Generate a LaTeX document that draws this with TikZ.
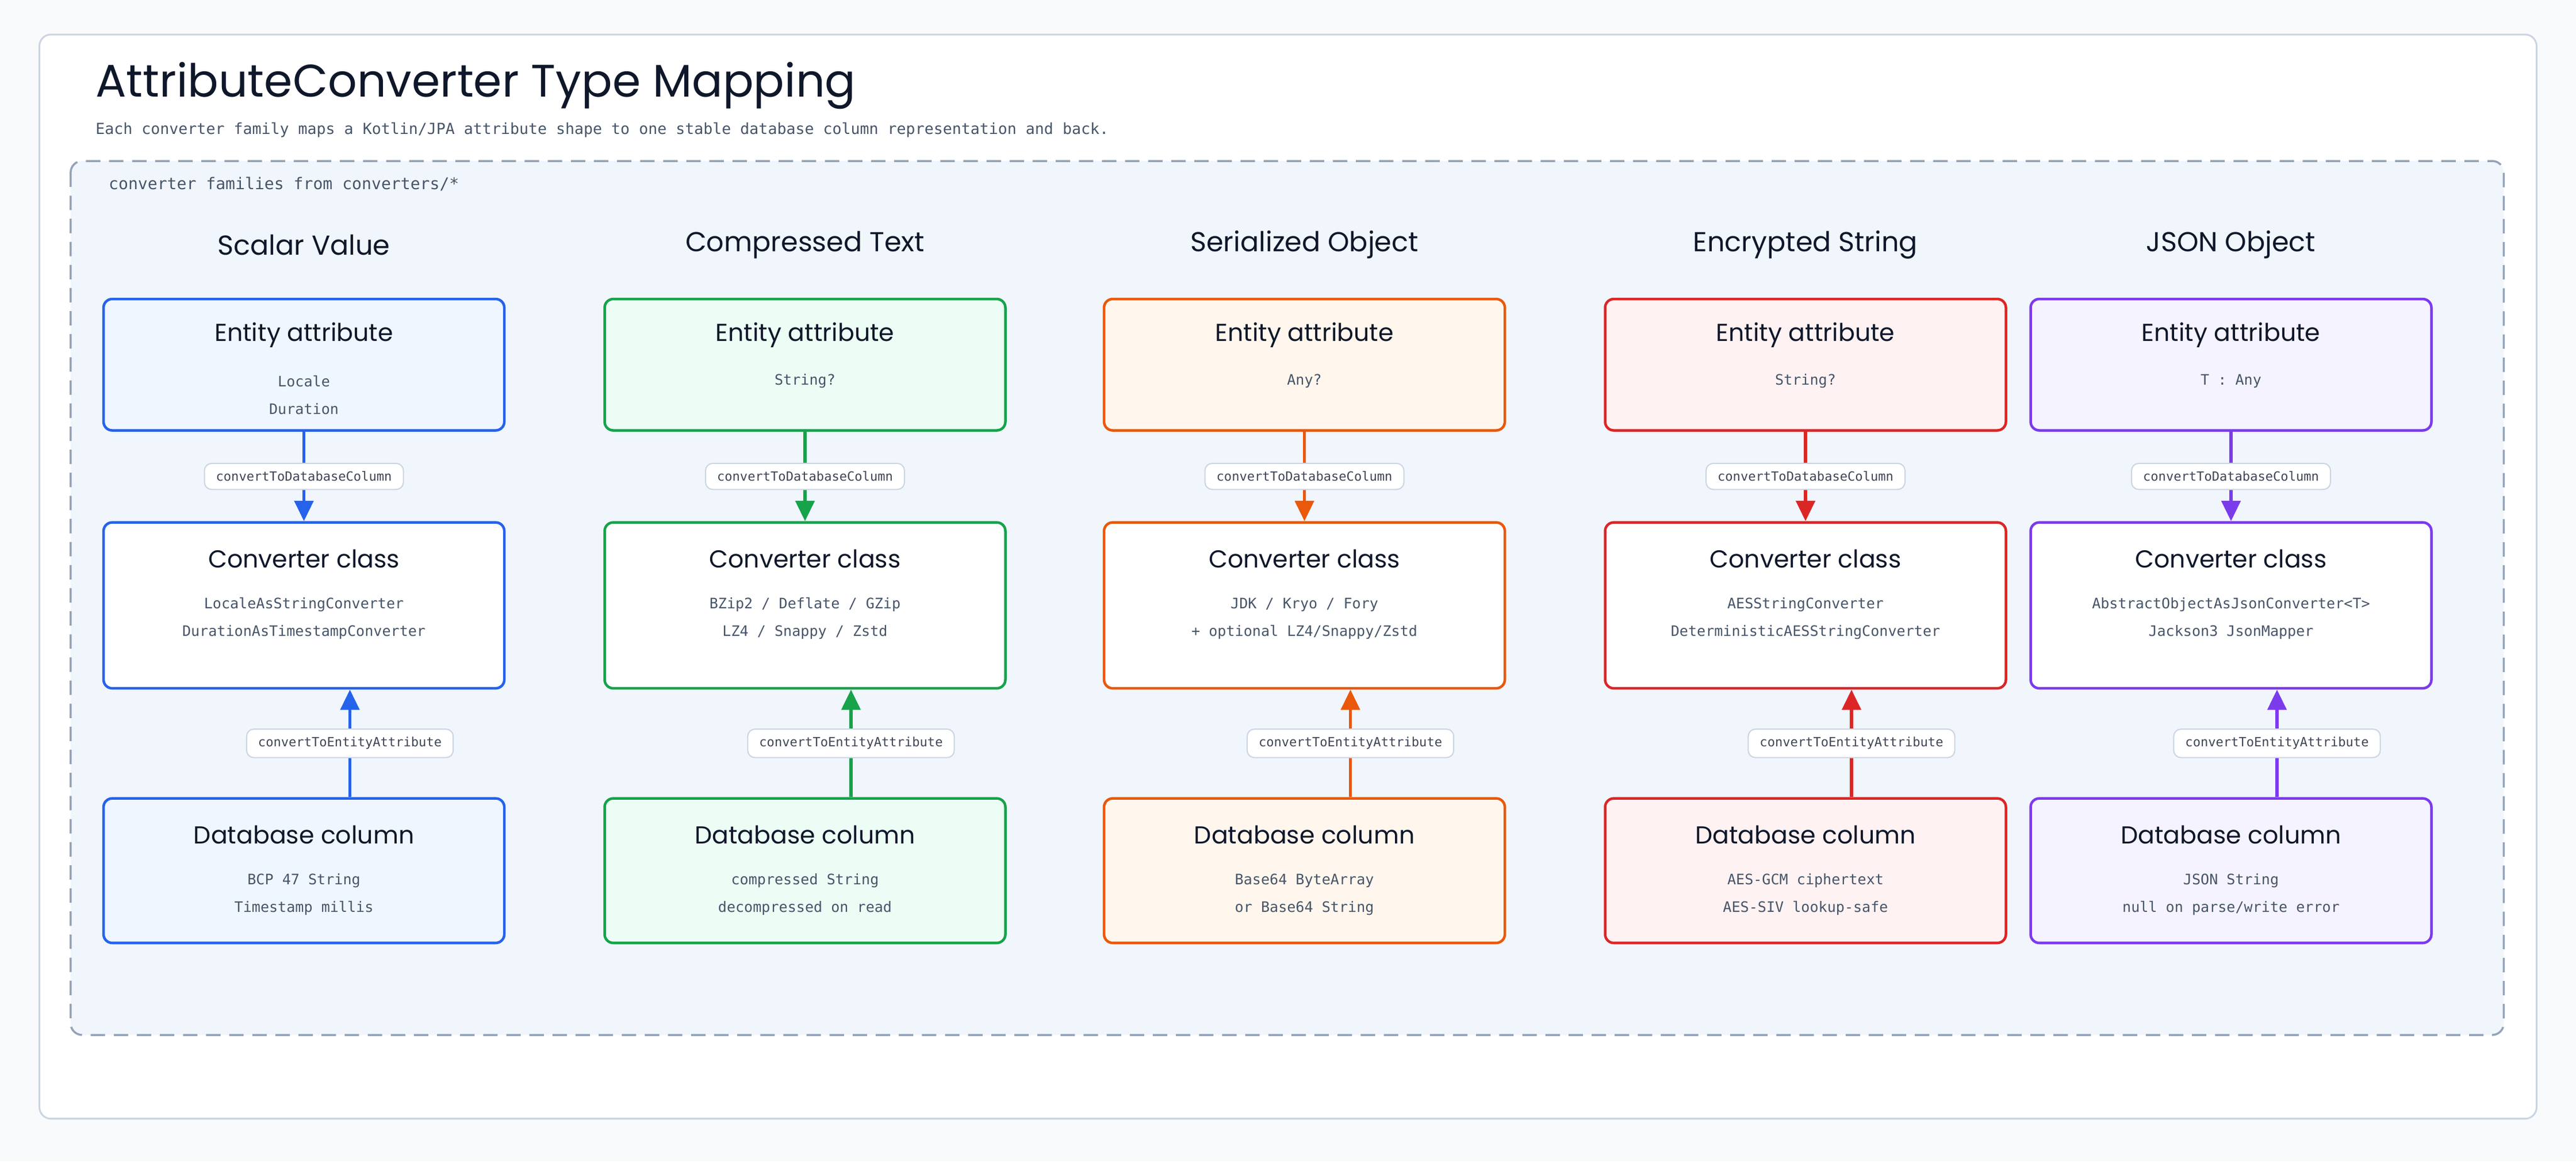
\documentclass[tikz,border=0pt]{standalone}
\usepackage{fontspec}
\setmainfont{Poppins}
\newfontfamily\codefont{DejaVu Sans Mono}
\usepackage{xcolor}
\usetikzlibrary{arrows.meta}

\definecolor{ink}{HTML}{0F172A}
\definecolor{muted}{HTML}{475569}
\definecolor{pagebg}{HTML}{F8FAFC}
\definecolor{cardline}{HTML}{CBD5E1}
\definecolor{panelbg}{HTML}{F1F6FD}
\definecolor{panelline}{HTML}{94A3B8}
\definecolor{blueline}{HTML}{2563EB}\definecolor{bluefill}{HTML}{EFF6FF}
\definecolor{greenline}{HTML}{16A34A}\definecolor{greenfill}{HTML}{ECFDF5}
\definecolor{orangeline}{HTML}{EA580C}\definecolor{orangefill}{HTML}{FFF7ED}
\definecolor{redline}{HTML}{DC2626}\definecolor{redfill}{HTML}{FEF2F2}
\definecolor{purpleline}{HTML}{7C3AED}\definecolor{purplefill}{HTML}{F5F3FF}

\begin{document}
\begin{tikzpicture}[x=0.02cm, y=-0.02cm]
        % Define styles
        \tikzset{
            entitybox/.style={rectangle, rounded corners=3pt, line width=0.9pt, minimum width=4.88cm, minimum height=1.6cm},
            classbox/.style={rectangle, rounded corners=3pt, line width=0.9pt, fill=white, minimum width=4.88cm, minimum height=2.02cm},
            columnbox/.style={rectangle, rounded corners=3pt, line width=0.9pt, minimum width=4.88cm, minimum height=1.76cm},
            family/.style={font=\fontsize{9.5}{11}\selectfont, text=ink},
            boxtitle/.style={font=\fontsize{8.5}{10}\selectfont, text=ink},
            detail/.style={font=\codefont\fontsize{5}{9.6}\selectfont, text=muted, align=center},
            callname/.style={font=\codefont\fontsize{4.4}{5}\selectfont, text=ink!80, fill=white, draw=cardline, line width=0.4pt, rounded corners=2.5pt, inner xsep=4pt, inner ysep=2.8pt},
            arrow/.style={line width=1.1pt, -{Triangle[length=7pt, width=6.5pt]}}
        }

        % Page, card and panel
        \fill[pagebg] (0,0) rectangle (1568,707);
        \filldraw[fill=white, draw=cardline, line width=0.6pt, rounded corners=4pt] (24,21) rectangle (1544,681);
        \node[anchor=west, font=\fontsize{15.8}{19}\selectfont, text=ink] (title) at (52,52) {AttributeConverter Type Mapping};
        \node[anchor=west, font=\codefont\fontsize{5.3}{7}\selectfont, text=muted] (subtitle) at (52,79) {Each converter family maps a Kotlin/JPA attribute shape to one stable database column representation and back.};
        \filldraw[fill=panelbg, draw=panelline, line width=0.7pt, dash pattern=on 5pt off 3pt, rounded corners=4pt] (43,98) rectangle (1524,630);
        \node[anchor=west, font=\codefont\fontsize{5.6}{7}\selectfont, text=muted] (panel) at (60,112) {converter families from converters/*};

        % Scalar Value
        \node[family] (h1) at (185,149) {Scalar Value};
        \node[entitybox, draw=blueline, fill=bluefill] (e1) at (185,222) {};
        \node[classbox, draw=blueline] (c1) at (185,368.5) {};
        \node[columnbox, draw=blueline, fill=bluefill] (d1) at (185,530) {};
        \node[boxtitle] at (185,204) {Entity attribute};
        \node[detail] at (185,240.5) {Locale\\Duration};
        \node[boxtitle] at (185,340) {Converter class};
        \node[detail] at (185,376.5) {LocaleAsStringConverter\\DurationAsTimestampConverter};
        \node[boxtitle] at (185,508) {Database column};
        \node[detail] at (185,544.5) {BCP 47 String\\Timestamp millis};
        \draw[arrow, blueline] (e1) -- (c1) node[midway, callname] {convertToDatabaseColumn};
        \draw[arrow, blueline] ([xshift=0.56cm]d1.north) -- ([xshift=0.56cm]c1.south) node[midway, callname] {convertToEntityAttribute};

        % Compressed Text
        \node[family] (h2) at (490,149) {Compressed Text};
        \node[entitybox, draw=greenline, fill=greenfill] (e2) at (490,222) {};
        \node[classbox, draw=greenline] (c2) at (490,368.5) {};
        \node[columnbox, draw=greenline, fill=greenfill] (d2) at (490,530) {};
        \node[boxtitle] at (490,204) {Entity attribute};
        \node[detail] at (490,232) {String?};
        \node[boxtitle] at (490,340) {Converter class};
        \node[detail] at (490,376.5) {BZip2 / Deflate / GZip\\LZ4 / Snappy / Zstd};
        \node[boxtitle] at (490,508) {Database column};
        \node[detail] at (490,544.5) {compressed String\\decompressed on read};
        \draw[arrow, greenline] (e2) -- (c2) node[midway, callname] {convertToDatabaseColumn};
        \draw[arrow, greenline] ([xshift=0.56cm]d2.north) -- ([xshift=0.56cm]c2.south) node[midway, callname] {convertToEntityAttribute};

        % Serialized Object
        \node[family] (h3) at (794,149) {Serialized Object};
        \node[entitybox, draw=orangeline, fill=orangefill] (e3) at (794,222) {};
        \node[classbox, draw=orangeline] (c3) at (794,368.5) {};
        \node[columnbox, draw=orangeline, fill=orangefill] (d3) at (794,530) {};
        \node[boxtitle] at (794,204) {Entity attribute};
        \node[detail] at (794,232) {Any?};
        \node[boxtitle] at (794,340) {Converter class};
        \node[detail] at (794,376.5) {JDK / Kryo / Fory\\+ optional LZ4/Snappy/Zstd};
        \node[boxtitle] at (794,508) {Database column};
        \node[detail] at (794,544.5) {Base64 ByteArray\\or Base64 String};
        \draw[arrow, orangeline] (e3) -- (c3) node[midway, callname] {convertToDatabaseColumn};
        \draw[arrow, orangeline] ([xshift=0.56cm]d3.north) -- ([xshift=0.56cm]c3.south) node[midway, callname] {convertToEntityAttribute};

        % Encrypted String
        \node[family] (h4) at (1099,149) {Encrypted String};
        \node[entitybox, draw=redline, fill=redfill] (e4) at (1099,222) {};
        \node[classbox, draw=redline] (c4) at (1099,368.5) {};
        \node[columnbox, draw=redline, fill=redfill] (d4) at (1099,530) {};
        \node[boxtitle] at (1099,204) {Entity attribute};
        \node[detail] at (1099,232) {String?};
        \node[boxtitle] at (1099,340) {Converter class};
        \node[detail] at (1099,376.5) {AESStringConverter\\DeterministicAESStringConverter};
        \node[boxtitle] at (1099,508) {Database column};
        \node[detail] at (1099,544.5) {AES-GCM ciphertext\\AES-SIV lookup-safe};
        \draw[arrow, redline] (e4) -- (c4) node[midway, callname] {convertToDatabaseColumn};
        \draw[arrow, redline] ([xshift=0.56cm]d4.north) -- ([xshift=0.56cm]c4.south) node[midway, callname] {convertToEntityAttribute};

        % JSON Object
        \node[family] (h5) at (1358,149) {JSON Object};
        \node[entitybox, draw=purpleline, fill=purplefill] (e5) at (1358,222) {};
        \node[classbox, draw=purpleline] (c5) at (1358,368.5) {};
        \node[columnbox, draw=purpleline, fill=purplefill] (d5) at (1358,530) {};
        \node[boxtitle] at (1358,204) {Entity attribute};
        \node[detail] at (1358,232) {T : Any};
        \node[boxtitle] at (1358,340) {Converter class};
        \node[detail] at (1358,376.5) {AbstractObjectAsJsonConverter<T>\\Jackson3 JsonMapper};
        \node[boxtitle] at (1358,508) {Database column};
        \node[detail] at (1358,544.5) {JSON String\\null on parse/write error};
        \draw[arrow, purpleline] (e5) -- (c5) node[midway, callname] {convertToDatabaseColumn};
        \draw[arrow, purpleline] ([xshift=0.56cm]d5.north) -- ([xshift=0.56cm]c5.south) node[midway, callname] {convertToEntityAttribute};
    \end{tikzpicture}
\end{document}
